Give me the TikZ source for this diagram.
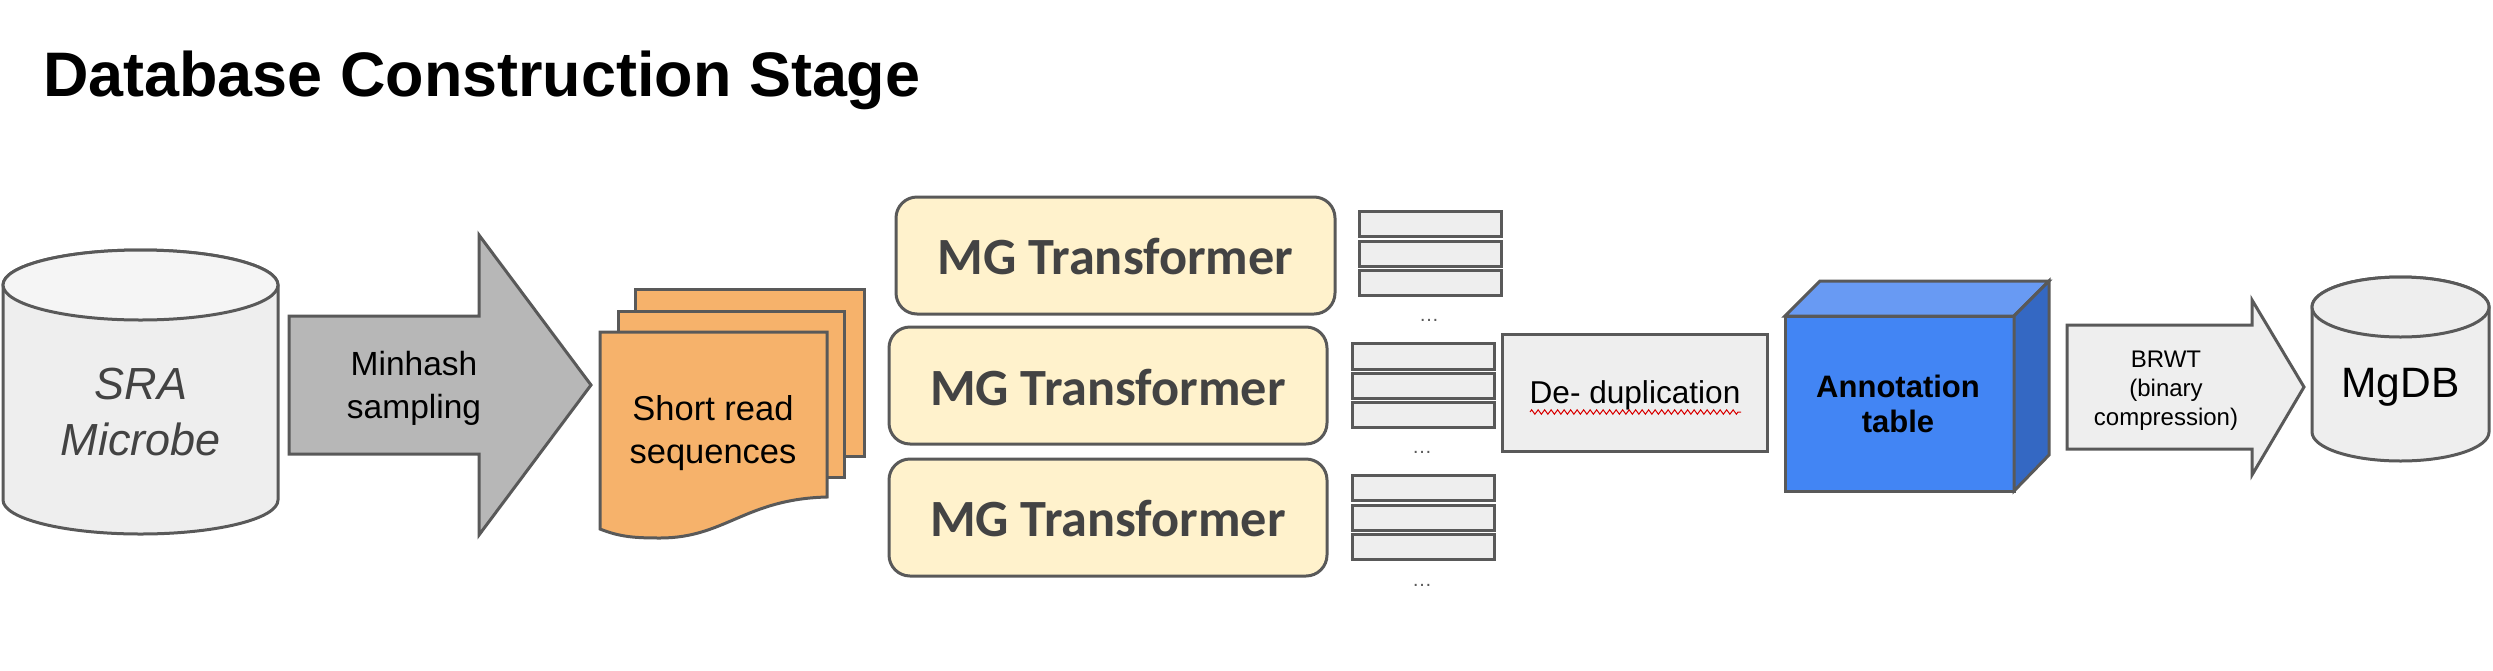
\documentclass[tikz,border=0pt]{standalone}
\usepackage{fontspec}
\setmainfont{Liberation Sans}
\newfontfamily\carlito{Carlito}
\usetikzlibrary{decorations.pathmorphing}
\definecolor{strokegray}{HTML}{595959}
\definecolor{textgray}{HTML}{434343}
\definecolor{lightfill}{HTML}{EEEEEE}
\definecolor{midfill}{HTML}{B7B7B7}
\definecolor{docfill}{HTML}{F6B26B}
\definecolor{mgfill}{HTML}{FFF2CC}
\definecolor{cubefront}{HTML}{4285F4}
\definecolor{cubetop}{HTML}{689AF3}
\definecolor{cubeside}{HTML}{3468C3}
\newcommand{\fsz}[2]{\fontsize{#1}{#2}\selectfont}
\tikzset{
  x=1pt,y=-1pt,
  outl/.style={draw=strokegray,line width=3pt,line join=miter},
  cylfill/.style={outl,fill=lightfill},
  arrowdark/.style={outl,fill=midfill},
  arrowlight/.style={outl,fill=lightfill},
  docpage/.style={outl,fill=docfill},
  mgbox/.style={outl,fill=mgfill,rounded corners=21pt},
  smallrow/.style={outl,fill=lightfill},
  mglabel/.style={text=textgray,font=\carlito\bfseries\fsz{52.3}{60}},
  dotslabel/.style={text=strokegray,font=\fsz{20}{24},anchor=base},
  lbl/.style={align=center,inner sep=0pt},
}
\begin{document}
\begin{tikzpicture}
\useasboundingbox (0,0) rectangle (2493,670);
% Title
\node[anchor=base west,inner sep=0pt,font=\bfseries\fsz{62.9}{70}] (title) at (43,96) {Database Construction Stage};
% SRA cylinder
\path[cylfill] (3,285) -- (3,500) arc[start angle=180,end angle=360,x radius=137.5pt,y radius=34pt] -- (278,285) arc[start angle=0,end angle=180,x radius=137.5pt,y radius=35pt] -- cycle;
\path[cylfill,fill=lightfill!60!white] (140.5,285) ellipse[x radius=137.5pt,y radius=35pt];
\node[lbl,text=textgray,font=\itshape\fsz{45}{56}] (sra) at (141,412) {SRA\\Microbe};
% Minhash arrow
\path[arrowdark] (289,316) -- (479,316) -- (479,235) -- (591,385) -- (479,535) -- (479,454) -- (289,454) -- cycle;
\node[lbl,font=\fsz{33.5}{43}] (minhash) at (414,388) {Minhash\\sampling};
% Documents
\path[docpage] (635,456) -- (635,289) -- (864,289) -- (864,456) -- cycle;
\path[docpage] (618,477) -- (618,311) -- (844,311) -- (844,477) -- cycle;
\path[docpage] (600,529) -- (600,332) -- (827,332) -- (827,497) .. controls (745,499) and (725,538) .. (660,538) .. controls (635,538) and (620,537) .. (600,529) -- cycle;
\node[lbl,font=\fsz{34.5}{43}] (reads) at (713,433) {Short read\\sequences};
% MG Transformer boxes
\path[mgbox] (896,197) rectangle (1335,314);
\node[mglabel] (mg1) at (1115.5,257) {MG Transformer};
\path[mgbox] (889,327) rectangle (1327,444);
\node[mglabel] (mg2) at (1108,388) {MG Transformer};
\path[mgbox] (889,459) rectangle (1327,576);
\node[mglabel] (mg3) at (1108,519) {MG Transformer};
% Row stacks
\path[smallrow] (1359,211) rectangle (1501,236);
\path[smallrow] (1359,241) rectangle (1501,266);
\path[smallrow] (1359,270) rectangle (1501,295);
\node[dotslabel] (dots1) at (1429,321) {…};
\path[smallrow] (1352.5,343) rectangle (1494,369);
\path[smallrow] (1352.5,373) rectangle (1494,398);
\path[smallrow] (1352.5,402) rectangle (1494,427);
\node[dotslabel] (dots2) at (1422,453) {…};
\path[smallrow] (1352.5,475) rectangle (1494,500);
\path[smallrow] (1352.5,505) rectangle (1494,530);
\path[smallrow] (1352.5,534) rectangle (1494,559);
\node[dotslabel] (dots3) at (1422,586) {…};
% De-duplication
\path[outl,fill=lightfill] (1502,334) rectangle (1767,451);
\node[lbl,font=\fsz{31.6}{36}] (dedup) at (1635,395.5) {De- duplication};
\coordinate (sqa) at (1530,412);
\coordinate (sqb) at (1741,412);
\draw[red!85!black,line width=1pt,decorate,decoration={zigzag,segment length=6.5pt,amplitude=2.2pt}] (sqa) -- (sqb);
% Cube
\path[outl,fill=cubefront] (1785,316) rectangle (2014,491);
\path[outl,fill=cubetop] (1785,316) -- (1820,281) -- (2049,281) -- (2014,316) -- cycle;
\path[outl,fill=cubeside] (2014,316) -- (2049,281) -- (2049,455) -- (2014,491) -- cycle;
\node[lbl,font=\bfseries\fsz{31}{35}] (annot) at (1898,403.5) {Annotation\\table};
% BRWT arrow
\path[arrowlight] (2067,325) -- (2252,325) -- (2252,300) -- (2304,387) -- (2252,475) -- (2252,449) -- (2067,449) -- cycle;
\node[lbl,font=\fsz{24}{29}] (brwt) at (2166,390.5) {BRWT\\(binary\\compression)};
% MgDB cylinder
\path[cylfill] (2312,307) -- (2312,432) arc[start angle=180,end angle=360,x radius=88.5pt,y radius=29pt] -- (2489,307) arc[start angle=0,end angle=180,x radius=88.5pt,y radius=30pt] -- cycle;
\path[cylfill] (2400.5,307) ellipse[x radius=88.5pt,y radius=30pt];
\node[lbl,font=\fsz{42.5}{48}] (mgdb) at (2400.5,387) {MgDB};
\end{tikzpicture}
\end{document}
